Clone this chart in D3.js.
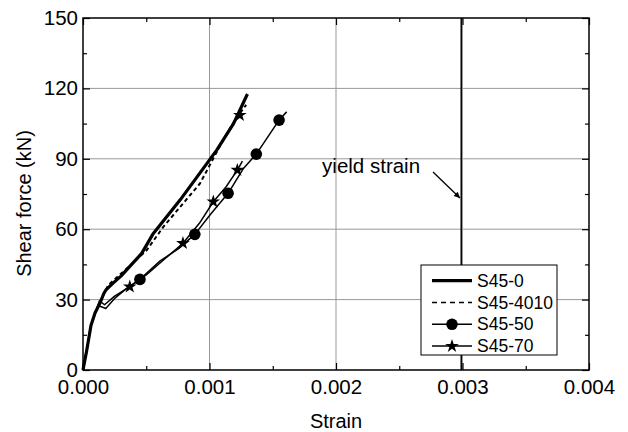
<!DOCTYPE html>
<html>
<head>
<meta charset="utf-8">
<script src="https://cdn.jsdelivr.net/npm/d3@7"></script>
<style>
  html, body { margin: 0; padding: 0; background: #fff; }
  svg text { font-family: "Liberation Sans", Arial, sans-serif; fill: #000; }
</style>
</head>
<body>
<svg id="chart" width="628" height="432"></svg>
<script>
// ---------- data ----------
const xTicks = [0, 0.001, 0.002, 0.003, 0.004];
const xTickLabels = ["0.000", "0.001", "0.002", "0.003", "0.004"];
const yTicks = [0, 30, 60, 90, 120, 150];
const yTickLabels = ["0", "30", "60", "90", "120", "150"];
const xMinor = [0.0005, 0.0015, 0.0025, 0.0035];
const yMinor = [15, 45, 75, 105, 135];

const seriesNames = ["S45-0", "S45-4010", "S45-50", "S45-70"];

// [strain, shear force kN]
const s450 = [[0,0],[0.00003,8.5],[0.000063,19],[0.000095,24.3],[0.000134,28.5],[0.000166,32.8],
  [0.000182,34.1],[0.000229,36.6],[0.000300,40],[0.000464,49.7],[0.000556,58.2],[0.000767,72.4],
  [0.001057,93.7],[0.00119,105],[0.0013,117.6]];
const s454010 = [[0,0],[0.00003,8.5],[0.000063,19],[0.000095,24.3],[0.000134,28.5],[0.000166,32.5],
  [0.0002,36.2],[0.00033,42.5],[0.000503,51],[0.000635,61],[0.000925,79.5],[0.00108,95.2],
  [0.0012,106.5],[0.00129,113]];
const s4550 = [[0,0],[0.00003,8.5],[0.000063,19],[0.000095,24.3],[0.00012,27.5],[0.00018,26.2],
  [0.00025,30.5],[0.00035,35],[0.00045,38.6],[0.00061,46.5],[0.00075,51.5],[0.000884,57.8],
  [0.00101,66.5],[0.001147,75.3],[0.00127,86],[0.00137,92],[0.00155,106.5],[0.00161,110]];
const s4550Markers = [[0.00045,38.6],[0.000884,57.8],[0.001147,75.3],[0.00137,92],[0.00155,106.5]];
const s4570 = [[0,0],[0.00003,8.5],[0.000063,19],[0.000095,24.3],[0.00013,29.5],[0.00017,27.8],
  [0.00025,31.5],[0.00037,35.5],[0.0005,40.5],[0.00065,47.5],[0.00079,54],[0.00092,62.5],
  [0.00103,71.7],[0.00113,78],[0.00122,85.2],[0.00126,89]];
const s4570Markers = [[0.00037,35.5],[0.00079,54],[0.00103,71.7],[0.00122,85.2],[0.00124,108.6]];

const yieldStrain = 0.00299;
const yieldLabel = "yield strain";
const yieldLabelPos = [0.00189, 84];
const arrowFrom = [0.002767, 84.4];
const arrowTo = [0.00298, 73.3];

// ---------- layout ----------
const svg = d3.select("#chart");
const M = { left: 83, right: 589, top: 18, bottom: 370 };
const x = d3.scaleLinear().domain([0, 0.004]).range([M.left, M.right]);
const y = d3.scaleLinear().domain([0, 150]).range([M.bottom, M.top]);
const font = 20.5;

svg.append("rect").attr("width", 628).attr("height", 432).attr("fill", "#fff");

// defs
svg.append("defs").append("marker")
  .attr("id", "arrow").attr("viewBox", "0 0 10 10").attr("refX", 10).attr("refY", 5)
  .attr("markerWidth", 9).attr("markerHeight", 6).attr("markerUnits", "userSpaceOnUse")
  .attr("orient", "auto")
  .append("path").attr("d", "M0,0 L10,5 L0,10 z").attr("fill", "#000");

// grid
const grid = svg.append("g");
grid.selectAll("line.gx").data(xTicks.slice(1, -1)).join("line")
  .attr("x1", d => x(d)).attr("x2", d => x(d)).attr("y1", M.top).attr("y2", M.bottom)
  .attr("stroke", "#999").attr("stroke-width", 1);
grid.selectAll("line.gy").data(yTicks.slice(1, -1)).join("line")
  .attr("y1", d => y(d)).attr("y2", d => y(d)).attr("x1", M.left).attr("x2", M.right)
  .attr("stroke", "#999").attr("stroke-width", 1);

// axes (ticks inward)
function styleAxis(g) {
  g.select(".domain").remove();
  g.selectAll("line").attr("stroke", "#000").attr("stroke-width", 1.2);
  g.selectAll("text").style("font-size", font + "px").attr("fill", "#000");
}

// bottom
svg.append("g").attr("transform", `translate(0,${M.bottom})`)
  .call(d3.axisBottom(x).tickValues(xTicks).tickFormat((d, i) => xTickLabels[i]).tickSizeInner(-7).tickSizeOuter(0).tickPadding(9.5))
  .call(styleAxis);
svg.append("g").attr("transform", `translate(0,${M.bottom})`)
  .call(d3.axisBottom(x).tickValues(xMinor).tickFormat("").tickSizeInner(-4).tickSizeOuter(0))
  .call(styleAxis);
// top
svg.append("g").attr("transform", `translate(0,${M.top})`)
  .call(d3.axisTop(x).tickValues(xTicks).tickFormat("").tickSizeInner(-7).tickSizeOuter(0))
  .call(styleAxis);
svg.append("g").attr("transform", `translate(0,${M.top})`)
  .call(d3.axisTop(x).tickValues(xMinor).tickFormat("").tickSizeInner(-4).tickSizeOuter(0))
  .call(styleAxis);
// left
svg.append("g").attr("transform", `translate(${M.left},0)`)
  .call(d3.axisLeft(y).tickValues(yTicks).tickFormat((d, i) => yTickLabels[i]).tickSizeInner(-7).tickSizeOuter(0).tickPadding(5))
  .call(styleAxis);
svg.append("g").attr("transform", `translate(${M.left},0)`)
  .call(d3.axisLeft(y).tickValues(yMinor).tickFormat("").tickSizeInner(-4).tickSizeOuter(0))
  .call(styleAxis);
// right
svg.append("g").attr("transform", `translate(${M.right},0)`)
  .call(d3.axisRight(y).tickValues(yTicks).tickFormat("").tickSizeInner(-7).tickSizeOuter(0))
  .call(styleAxis);
svg.append("g").attr("transform", `translate(${M.right},0)`)
  .call(d3.axisRight(y).tickValues(yMinor).tickFormat("").tickSizeInner(-4).tickSizeOuter(0))
  .call(styleAxis);

// frame
svg.append("rect").attr("x", M.left).attr("y", M.top)
  .attr("width", M.right - M.left).attr("height", M.bottom - M.top)
  .attr("fill", "none").attr("stroke", "#000").attr("stroke-width", 1.5);

// yield line
svg.append("line").attr("x1", x(yieldStrain)).attr("x2", x(yieldStrain))
  .attr("y1", M.top).attr("y2", M.bottom).attr("stroke", "#000").attr("stroke-width", 1.5);

// series
const line = d3.line().x(d => x(d[0])).y(d => y(d[1]));
const plot = svg.append("g");
plot.append("path").datum(s4570).attr("d", line).attr("fill", "none")
  .attr("stroke", "#000").attr("stroke-width", 1.5).attr("stroke-linejoin", "round");
plot.append("path").datum(s4550).attr("d", line).attr("fill", "none")
  .attr("stroke", "#000").attr("stroke-width", 1.5).attr("stroke-linejoin", "round");
plot.append("path").datum(s454010).attr("d", line).attr("fill", "none")
  .attr("stroke", "#000").attr("stroke-width", 2).attr("stroke-dasharray", "4,3");
plot.append("path").datum(s450).attr("d", line).attr("fill", "none")
  .attr("stroke", "#000").attr("stroke-width", 3.2).attr("stroke-linejoin", "round");

plot.selectAll("circle.m").data(s4550Markers).join("circle")
  .attr("cx", d => x(d[0])).attr("cy", d => y(d[1])).attr("r", 5.8).attr("fill", "#000");
const star = d3.symbol().type(d3.symbolStar).size(58);
plot.selectAll("path.star").data(s4570Markers).join("path")
  .attr("d", star).attr("transform", d => `translate(${x(d[0])},${y(d[1])})`).attr("fill", "#000");

// annotation
svg.append("text").attr("x", x(yieldLabelPos[0])).attr("y", y(yieldLabelPos[1]))
  .style("font-size", font + "px").text(yieldLabel);
svg.append("line").attr("x1", x(arrowFrom[0])).attr("y1", y(arrowFrom[1]))
  .attr("x2", x(arrowTo[0])).attr("y2", y(arrowTo[1]))
  .attr("stroke", "#000").attr("stroke-width", 1.3).attr("marker-end", "url(#arrow)");

// axis titles
svg.append("text").attr("x", (M.left + M.right) / 2).attr("y", 428)
  .attr("text-anchor", "middle").style("font-size", "20px").text("Strain");
svg.append("text").attr("transform", `translate(31,203.5) rotate(-90)`)
  .attr("text-anchor", "middle").style("font-size", "20px").text("Shear force (kN)");

// legend
const lg = svg.append("g");
lg.append("rect").attr("x", 421).attr("y", 265).attr("width", 136).attr("height", 90)
  .attr("fill", "#fff").attr("stroke", "#000").attr("stroke-width", 1);
const styles = [
  { w: 3.2, dash: null, mk: null },
  { w: 1.5, dash: "5,4", mk: null },
  { w: 1.5, dash: null, mk: "circle" },
  { w: 1.5, dash: null, mk: "star" }
];
seriesNames.forEach((name, i) => {
  const cy = 280.7 + i * 21.8;
  lg.append("line").attr("x1", 432).attr("x2", 472).attr("y1", cy).attr("y2", cy)
    .attr("stroke", "#000").attr("stroke-width", styles[i].w)
    .attr("stroke-dasharray", styles[i].dash);
  if (styles[i].mk === "circle") {
    lg.append("circle").attr("cx", 452).attr("cy", cy).attr("r", 5.8).attr("fill", "#000");
  } else if (styles[i].mk === "star") {
    lg.append("path").attr("d", star).attr("transform", `translate(452,${cy})`).attr("fill", "#000");
  }
  lg.append("text").attr("x", 477).attr("y", cy).attr("dy", "0.35em")
    .style("font-size", "17.5px").text(name);
});
</script>
</body>
</html>
